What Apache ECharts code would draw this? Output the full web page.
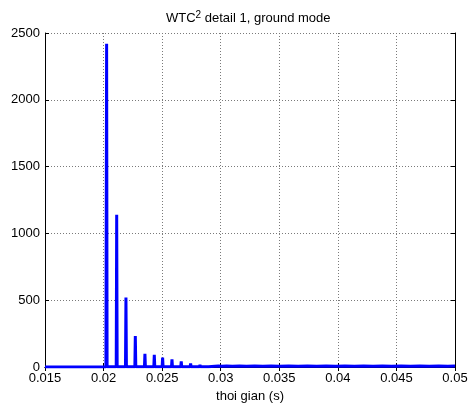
<!DOCTYPE html>
<html>
<head>
<meta charset="utf-8">
<script src="https://cdn.jsdelivr.net/npm/echarts@6/dist/echarts.min.js"></script>
<style>
  html, body { margin: 0; padding: 0; background: #fff; }
  #chart { width: 468px; height: 403px; }
</style>
</head>
<body>
<div id="chart"></div>
<script>
// time (s) and WTC^2 value
var time = [
  0.015, 0.0202, 0.02026, 0.0203,
  0.02108, 0.02112, 0.02116,
  0.02187, 0.02191, 0.02195,
  0.02267, 0.02271, 0.02275,
  0.02349, 0.02353, 0.02357,
  0.02429, 0.02433, 0.02437,
  0.02500, 0.02504, 0.02508,
  0.02580, 0.02584, 0.02588,
  0.02659, 0.02663, 0.02667,
  0.02739, 0.02743, 0.02747,
  0.02819, 0.02823, 0.02827,
  0.02896, 0.02900, 0.02904,
  0.0295, 0.0298, 0.0301, 0.0305, 0.0310, 0.0316, 0.0322, 0.0329, 0.0336,
  0.0343, 0.0350, 0.0358, 0.0366, 0.0374, 0.0382, 0.0390, 0.0398, 0.0406,
  0.0414, 0.0422, 0.0430, 0.0438, 0.0446, 0.0454, 0.0462, 0.0470, 0.0478,
  0.0486, 0.0494, 0.0500
];
var value = [
  0, 0, 2420, 2,
  2, 1140, 2,
  2, 520, 2,
  2, 232, 2,
  2, 98, 2,
  2, 92, 2,
  2, 70, 2,
  2, 57, 2,
  2, 42, 2,
  2, 27, 2,
  2, 17, 2,
  2, 12, 2,
  6, 8, 5, 7, 5, 7, 5, 8, 6,
  7, 5, 8, 6, 7, 5, 8, 6, 7,
  6, 8, 5, 7, 6, 8, 6, 7, 6,
  8, 6, 7
];
var xTicks = [0.015, 0.02, 0.025, 0.03, 0.035, 0.04, 0.045, 0.05];
var yTicks = [0, 500, 1000, 1500, 2000, 2500];

var points = time.map(function (t, i) { return [t, value[i]]; });

var font = 'Liberation Sans, Arial, sans-serif';
var chart = echarts.init(document.getElementById('chart'));

var gridLine = { show: true, lineStyle: { color: '#7a7a7a', type: [1, 2], width: 1 } };
var tick = { show: true, inside: true, length: 4, lineStyle: { color: '#000' } };
var line = { show: true, lineStyle: { color: '#000', width: 1 } };

chart.setOption({
  animation: false,
  title: {
    text: 'WTC{s|2} detail 1, ground mode',
    left: 161, top: 5,
    textStyle: {
      fontFamily: font, fontSize: 13, fontWeight: 'normal', color: '#000',
      rich: {
        s: { fontFamily: font, fontSize: 10, fontWeight: 'normal', color: '#000', verticalAlign: 'top', padding: [0, 0, 6, 0] }
      }
    }
  },
  grid: { left: 45, right: 13, top: 33, bottom: 36, outerBoundsMode: 'none' },
  xAxis: [{
    type: 'value',
    min: xTicks[0], max: xTicks[xTicks.length - 1], interval: 0.005,
    name: 'thoi gian (s)', nameLocation: 'middle', nameGap: 20,
    nameTextStyle: { fontFamily: font, fontSize: 13, color: '#000', verticalAlign: 'top' },
    axisLine: line, axisTick: tick, splitLine: gridLine,
    axisLabel: {
      fontFamily: font, fontSize: 13, color: '#000', margin: 5,
      formatter: function (v) { return String(parseFloat(v.toFixed(4))); }
    }
  }, {
    type: 'value', position: 'top',
    min: xTicks[0], max: xTicks[xTicks.length - 1], interval: 0.005,
    axisLine: line, axisTick: tick, axisLabel: { show: false }, splitLine: { show: false }
  }],
  yAxis: [{
    type: 'value',
    min: yTicks[0], max: yTicks[yTicks.length - 1], interval: 500,
    axisLine: line, axisTick: tick, splitLine: gridLine,
    axisLabel: {
      fontFamily: font, fontSize: 13, color: '#000', margin: 5,
      formatter: function (v) { return String(v); }
    }
  }, {
    type: 'value', position: 'right',
    min: yTicks[0], max: yTicks[yTicks.length - 1], interval: 500,
    axisLine: line, axisTick: tick, axisLabel: { show: false }, splitLine: { show: false }
  }],
  series: [{
    type: 'line',
    data: points,
    showSymbol: false,
    lineStyle: { color: '#0000ff', width: 3 },
    z: 3
  }]
});
</script>
</body>
</html>
